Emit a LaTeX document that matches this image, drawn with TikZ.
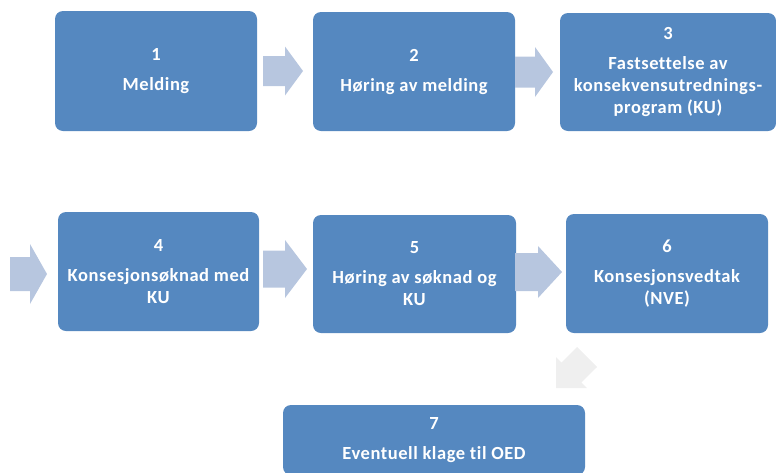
\documentclass[tikz,border=0pt]{standalone}
\usepackage{fontspec}
\setmainfont{Carlito}[LetterSpace=3,Ligatures=CommonOff]
\definecolor{boxblue}{HTML}{5588C0}
\definecolor{arrowblue}{HTML}{B7C6DF}
\definecolor{arrowgray}{HTML}{EFEFEF}
\tikzset{
  stepbox/.style={fill=boxblue, draw=none, rounded corners=8pt, text=white,
    font=\bfseries\fontsize{18.5}{22}\selectfont, align=center, inner sep=0pt},
  blockarrow/.style={fill=arrowblue, draw=none},
}
% #1 start x, #2 neck x, #3 tip x, #4 center y, #5 body half, #6 head half
\newcommand{\barrow}[6]{%
  \fill[blockarrow] (#1,#4-#5) -- (#2,#4-#5) -- (#2,#4-#6) -- (#3,#4) -- (#2,#4+#6) -- (#2,#4+#5) -- (#1,#4+#5) -- cycle;}
\begin{document}
\begin{tikzpicture}[x=1pt,y=-1pt]
\useasboundingbox (0,0) rectangle (776,472);
\clip (0,0) rectangle (776,472);
\node[stepbox, minimum width=202pt, minimum height=120pt] (b1) at (156,71) {1\\[8pt]Melding};
\node[stepbox, minimum width=202pt, minimum height=119pt] (b2) at (414,71.5) {2\\[8pt]Høring av melding};
\node[stepbox, minimum width=216pt, minimum height=118pt] (b3) at (668,72) {3\\[8pt]Fastsettelse av\\konsekvensutrednings-\\program (KU)};
\node[stepbox, minimum width=201pt, minimum height=119pt] (b4) at (158.5,271.5) {4\\[8pt]Konsesjonsøknad med\\KU};
\node[stepbox, minimum width=203pt, minimum height=118pt] (b5) at (414.5,274) {5\\[8pt]Høring av søknad og\\KU};
\node[stepbox, minimum width=202pt, minimum height=119pt] (b6) at (667,273.5) {6\\[8pt]Konsesjonsvedtak\\(NVE)};
\node[stepbox, minimum width=302pt, minimum height=70pt] (b7) at (434,440) {7\\[8pt]Eventuell klage til OED};
% arrows
\barrow{263}{285}{303}{71}{15}{24.5}
\barrow{515}{535}{553}{72}{15.5}{25}
\barrow{10}{30}{47}{274}{17}{30}
\barrow{263}{285}{307}{269}{18.5}{29}
\barrow{515}{538}{562}{272}{19}{26}
\fill[arrowgray] (556,388) -- (556,357) -- (561.6,362.6) -- (577,347) -- (597,367) -- (581.4,382.4) -- (587,388) -- cycle;
\end{tikzpicture}
\end{document}
